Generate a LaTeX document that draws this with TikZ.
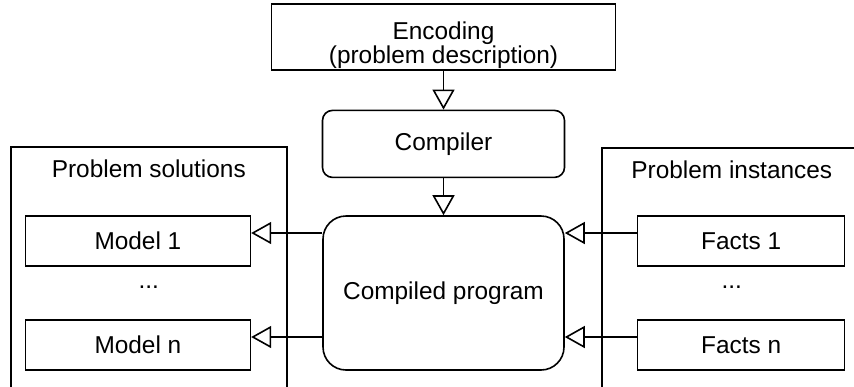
\documentclass[tikz,border=0pt]{standalone}
\usepackage{fontspec}
\setmainfont{Liberation Sans}
\usetikzlibrary{arrows.meta, positioning}

\begin{document}
\begin{tikzpicture}[
  box/.style={rectangle, draw, line width=0.8pt, minimum width=112.5pt,
              minimum height=25pt, inner sep=2pt},
  stage/.style={box, rounded corners=5pt, minimum width=121pt, minimum height=33.5pt},
  program/.style={box, rounded corners=11.5pt, minimum width=120.5pt, minimum height=77pt},
  group/.style={rectangle, draw, line width=0.8pt, anchor=north west, minimum height=150pt},
  title/.style={inner sep=0pt},
  flow/.style={-{Triangle[open, length=10pt, width=11pt]}, line width=0.8pt},
  font=\fontsize{12.2}{15}\selectfont
]
  \useasboundingbox (0,0) rectangle (427pt,-193pt);
  \clip (0,0) rectangle (427pt,-193pt);

  % pipeline in the middle
  \node[program] (compiled) at (221.75pt,-146.5pt) {Compiled program};
  \node[stage, above=18.5pt of compiled] (compiler) {Compiler};
  \node[box, minimum width=172pt, minimum height=33pt, align=center,
        text height=26.5pt, text depth=0pt, font=\fontsize{12.2}{11.8}\selectfont,
        above=19.5pt of compiler] (encoding) {Encoding\\(problem description)};

  % the two groups on the sides, open past the lower edge
  \node[group, minimum width=138pt] (solutions) at (5pt,-73pt) {};
  \node[group, minimum width=130pt] (instances) at (300.5pt,-73.5pt) {};
  \node[title] (soltitle) at ([yshift=-11.5pt]solutions.north) {Problem solutions};
  \node[title] (insttitle) at ([yshift=-11.5pt]instances.north) {Problem instances};

  \node[box, anchor=north east] (model1) at ([xshift=-35.5pt]compiled.north west) {Model 1};
  \node[box, anchor=south east] (modeln) at ([xshift=-35.5pt]compiled.south west) {Model n};
  \node[box, minimum width=103.5pt, anchor=north west] (facts1) at ([xshift=36pt]compiled.north east) {Facts 1};
  \node[box, minimum width=103.5pt, anchor=south west] (factsn) at ([xshift=36pt]compiled.south east) {Facts n};
  \node[title] (moremodels) at ([yshift=3pt]solutions.north |- compiled) {...};
  \node[title] (morefacts) at ([yshift=3pt]instances.north |- compiled) {...};

  \coordinate (m1) at ([yshift=4pt]model1.east);
  \coordinate (mn) at ([yshift=4pt]modeln.east);
  \coordinate (f1) at ([yshift=4pt]facts1.west);
  \coordinate (fn) at ([yshift=4pt]factsn.west);

  \draw[flow] (encoding) -- (compiler);
  \draw[flow] (compiler) -- (compiled);
  \draw[flow] (compiled.west |- m1) -- (m1);
  \draw[flow] (compiled.west |- mn) -- (mn);
  \draw[flow] (f1) -- (compiled.east |- f1);
  \draw[flow] (fn) -- (compiled.east |- fn);
\end{tikzpicture}
\end{document}
